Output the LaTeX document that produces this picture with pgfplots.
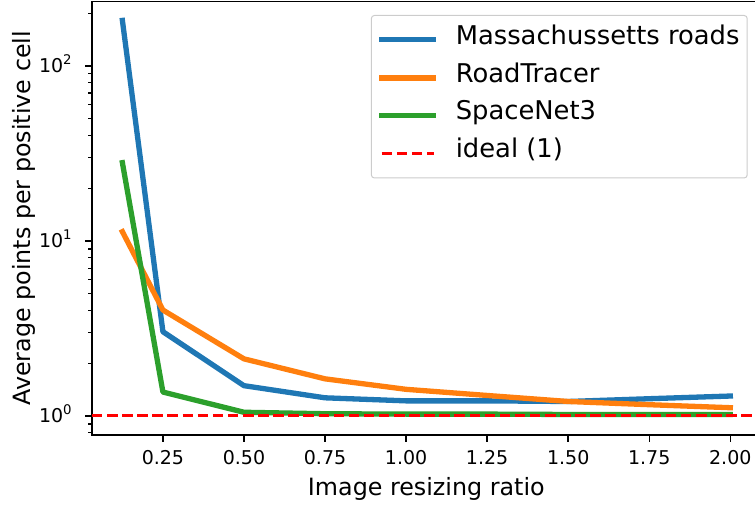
\documentclass[border=0pt]{standalone}
\usepackage{pgfplots}
\pgfplotsset{compat=1.18}
\usepackage{fontspec}
\setmainfont{DejaVu Sans}
\definecolor{tabblue}{HTML}{1F77B4}
\definecolor{taborange}{HTML}{FF7F0E}
\definecolor{tabgreen}{HTML}{2CA02C}
\newcommand{\expo}[1]{\raisebox{0.42em}{\fontsize{13.3}{14}\selectfont #1}}
\begin{document}
\begin{tikzpicture}
\begin{axis}[
    name=ax,
    ymode=log,
    scale only axis,
    width=668.7pt, height=433.3pt,
    xmin=0.03125, xmax=2.09375,
    ymin=0.7786, ymax=232.8,
    xtick={0.25,0.5,0.75,1.0,1.25,1.5,1.75,2.0},
    ytick={1,10,100},
    yticklabels={10\expo{0},10\expo{1},10\expo{2}},
    minor ytick={0.8,0.9,2,3,4,5,6,7,8,9,20,30,40,50,60,70,80,90,200},
    xtick pos=left, ytick pos=left,
    tick align=outside,
    major tick length=6.7pt, minor tick length=3.8pt,
    major tick style={black, line width=1.5pt},
    minor tick style={black, line width=1.1pt},
    axis line style={black, line width=1.5pt},
    tick label style={font=\fontsize{19}{22}\selectfont, inner sep=0pt},
    xticklabel style={anchor=north, yshift=-9pt},
    yticklabel style={anchor=base east, xshift=-13.4pt, yshift=-7pt},
    /pgf/number format/fixed, /pgf/number format/fixed zerofill,
    /pgf/number format/precision=2, /pgf/number format/assume math mode=true,
    xlabel={Image resizing ratio},
    ylabel={Average points per positive cell},
    label style={font=\fontsize{23.8}{28}\selectfont},
    xlabel style={at={(axis description cs:0.5,-0.1385)}, anchor=base},
    ylabel style={at={(axis description cs:-0.0917,0.5)}, anchor=base},
    legend style={at={(rel axis cs:1,1)}, anchor=north east,
        xshift=-13pt, yshift=-13.3pt,
        draw=black!20, line width=1pt, rounded corners=3pt,
        font=\fontsize{25.8}{30}\selectfont,
        inner xsep=7.7pt, inner ysep=9pt, row sep=7.5pt,
        nodes={inner sep=0pt, text depth=11pt},
        /tikz/every odd column/.append style={column sep=19.4pt}},
    legend cell align=left,
    legend image code/.code={\draw[#1] (2.5pt,0pt) -- (54.5pt,0pt);},
]
\addplot[tabblue, line width=5.3pt, line cap=rect, line join=round] coordinates {
    (0.125,182) (0.25,3.03) (0.5,1.49) (0.75,1.27) (1.0,1.22)
    (1.25,1.22) (1.5,1.21) (1.75,1.255) (2.0,1.30)
};
\addlegendentry{Massachussetts roads}
\addplot[taborange, line width=5.3pt, line cap=rect, line join=round] coordinates {
    (0.125,11.3) (0.25,4.03) (0.5,2.12) (0.75,1.63) (1.0,1.42)
    (1.25,1.31) (1.5,1.21) (1.75,1.16) (2.0,1.115)
};
\addlegendentry{RoadTracer}
\addplot[tabgreen, line width=5.3pt, line cap=rect, line join=round] coordinates {
    (0.125,28) (0.25,1.37) (0.5,1.05) (0.75,1.03) (1.0,1.025)
    (1.25,1.025) (1.5,1.02) (1.75,1.02) (2.0,1.02)
};
\addlegendentry{SpaceNet3}
\addplot[red, line width=3pt, line cap=butt, dash pattern=on 10.5pt off 4.6pt] coordinates {
    (0.03125,1) (2.09375,1)
};
\addlegendentry{ideal (1)}
\end{axis}
\pgfresetboundingbox
\path[use as bounding box] ([shift={(-92pt,-72pt)}]ax.south west) rectangle ([shift={(663pt,435pt)}]ax.south west);
\end{tikzpicture}
\end{document}
